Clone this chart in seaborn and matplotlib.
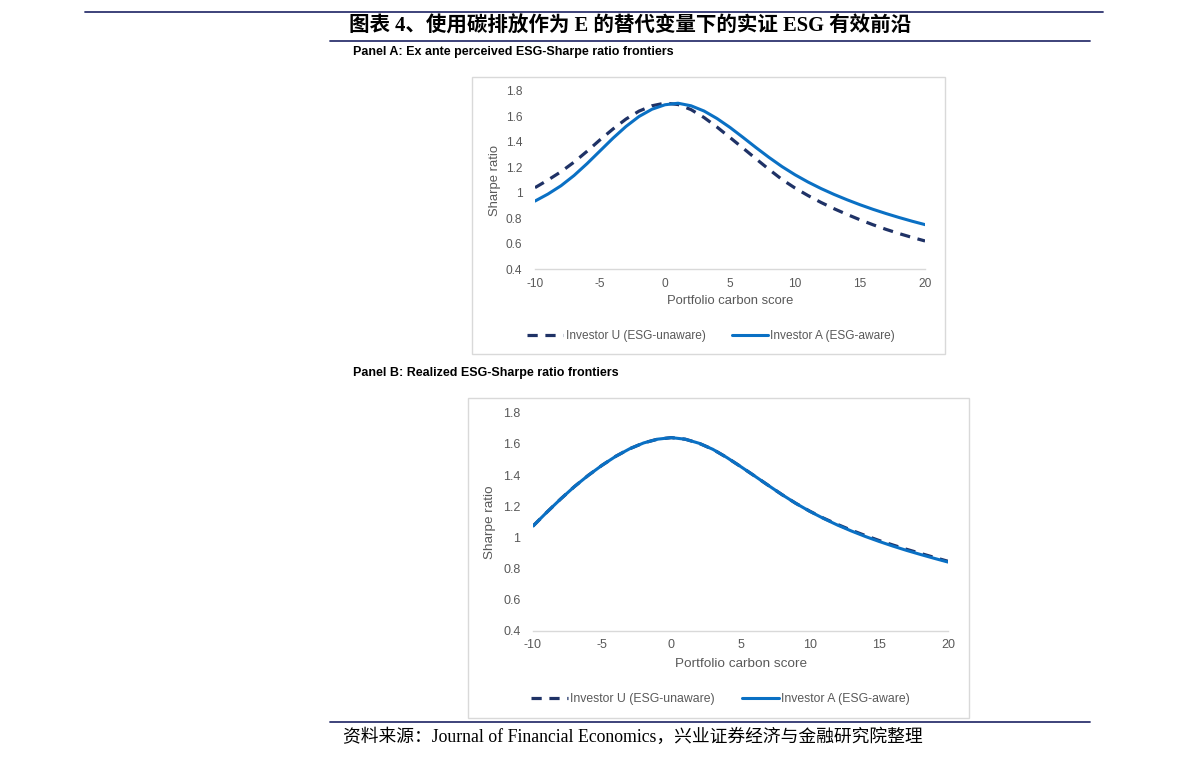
import numpy as np
import pandas as pd
import seaborn as sns
import matplotlib
matplotlib.use('Agg')
from matplotlib import pyplot as plt
from matplotlib.patches import Rectangle
from matplotlib.lines import Line2D

sns.set_style('white')
plt.rcParams['font.family'] = ['Liberation Sans', 'Noto Sans CJK SC']

# data
carbon_score = [-10, -9, -8, -7, -6, -5, -4, -3, -2, -1, 0, 1, 2, 3, 4, 5,
                6, 7, 8, 9, 10, 11, 12, 13, 14, 15, 16, 17, 18, 19, 20]
a_unaware = [1.04, 1.10, 1.165, 1.24, 1.325, 1.415, 1.50, 1.578, 1.640, 1.682, 1.703,
             1.692, 1.652, 1.59, 1.515, 1.433, 1.35, 1.266, 1.183, 1.104, 1.037, 0.978,
             0.924, 0.875, 0.83, 0.788, 0.749, 0.713, 0.68, 0.65, 0.622]
a_aware = [0.935, 0.99, 1.055, 1.135, 1.228, 1.328, 1.428, 1.52, 1.598, 1.655, 1.69,
           1.702, 1.682, 1.641, 1.582, 1.512, 1.434, 1.354, 1.277, 1.205, 1.141, 1.084,
           1.033, 0.987, 0.945, 0.906, 0.87, 0.837, 0.806, 0.777, 0.75]
b_unaware = [1.072, 1.161, 1.246, 1.326, 1.398, 1.463, 1.521, 1.569, 1.606, 1.630, 1.640,
             1.630, 1.604, 1.565, 1.513, 1.455, 1.395, 1.334, 1.274, 1.218, 1.168, 1.123,
             1.083, 1.046, 1.012, 0.98, 0.951, 0.923, 0.897, 0.871, 0.846]
b_aware = [1.072, 1.161, 1.246, 1.326, 1.398, 1.463, 1.521, 1.569, 1.606, 1.630, 1.640,
           1.630, 1.604, 1.565, 1.513, 1.455, 1.395, 1.334, 1.274, 1.218, 1.167, 1.121,
           1.079, 1.041, 1.006, 0.974, 0.944, 0.916, 0.89, 0.865, 0.841]
x_ticks = [-10, -5, 0, 5, 10, 15, 20]
y_ticks = [0.4, 0.6, 0.8, 1.0, 1.2, 1.4, 1.6, 1.8]
y_tick_labels = ['0.4', '0.6', '0.8', '1', '1.2', '1.4', '1.6', '1.8']
series_names = ['Investor U (ESG-unaware)', 'Investor A (ESG-aware)']

title = '图表 4、使用碳排放作为 E 的替代变量下的实证 ESG 有效前沿'
panel_a = 'Panel A: Ex ante perceived ESG-Sharpe ratio frontiers'
panel_b = 'Panel B: Realized ESG-Sharpe ratio frontiers'
source = '资料来源：Journal of Financial Economics，兴业证券经济与金融研究院整理'

navy = '#1F3266'
blue = '#0A70C4'
grey_txt = '#595959'
rule = '#2E3470'

fig = plt.figure(figsize=(11.91, 7.65), dpi=100)


def draw_panel(rect, frame, unaware, aware, fs_tick, fs_lab, fs_leg, xlab_y, ylab_x, leg_xy):
    fig.add_artist(Rectangle((frame[0], frame[1]), frame[2], frame[3],
                             transform=fig.transFigure, fill=False,
                             edgecolor='#D9D9D9', linewidth=1.0))
    ax = fig.add_axes(rect)
    sns.lineplot(x=carbon_score, y=unaware, ax=ax, color=navy, linewidth=2.3,
                 linestyle=(0, (3.2, 2.4)), label=series_names[0])
    sns.lineplot(x=carbon_score, y=aware, ax=ax, color=blue, linewidth=2.2,
                 label=series_names[1])
    ax.set_xlim(-10, 20)
    ax.set_ylim(0.4, 1.8)
    ax.set_xticks(x_ticks)
    ax.set_xticklabels([str(t) for t in x_ticks], fontsize=fs_tick, color=grey_txt)
    ax.set_yticks(y_ticks)
    ax.set_yticklabels(y_tick_labels, fontsize=fs_tick, color=grey_txt)
    ax.tick_params(axis='both', length=0)
    ax.tick_params(axis='y', pad=9)
    ax.tick_params(axis='x', pad=6)
    for s in ['top', 'right', 'left']:
        ax.spines[s].set_visible(False)
    ax.spines['bottom'].set_color('#D9D9D9')
    ax.spines['bottom'].set_linewidth(1.0)
    ax.set_xlabel('Portfolio carbon score', fontsize=fs_lab, color=grey_txt)
    ax.set_ylabel('Sharpe ratio', fontsize=fs_lab, color=grey_txt)
    ax.xaxis.set_label_coords(0.5, xlab_y)
    ax.yaxis.set_label_coords(ylab_x, 0.5)
    ax.legend(loc='center', bbox_to_anchor=leg_xy, bbox_transform=fig.transFigure,
              ncol=2, frameon=False, fontsize=fs_leg, handlelength=3.0,
              handletextpad=0.2, columnspacing=2.2, labelcolor=grey_txt)
    return ax


draw_panel([0.4492, 0.648, 0.3275, 0.2334], (0.3963, 0.5373, 0.397, 0.362),
           a_unaware, a_aware, 8.6, 9.4, 8.6, -0.144, -0.087, (0.597, 0.5608))
draw_panel([0.4475, 0.1755, 0.3485, 0.285], (0.393, 0.0614, 0.4206, 0.4183),
           b_unaware, b_aware, 9, 9.7, 8.8, -0.125, -0.09, (0.605, 0.0863))

# header / footer rules and text
fig.add_artist(Line2D([0.0714, 0.926], [0.9843, 0.9843], transform=fig.transFigure,
                      color=rule, linewidth=1.3))
fig.add_artist(Line2D([0.277, 0.915], [0.9464, 0.9464], transform=fig.transFigure,
                      color=rule, linewidth=1.3))
fig.add_artist(Line2D([0.277, 0.915], [0.0562, 0.0562], transform=fig.transFigure,
                      color=rule, linewidth=1.3))
fig.text(0.529, 0.9658, title, ha='center', va='center', fontsize=14.8,
         fontweight='bold', family=['Liberation Serif', 'Noto Sans CJK SC'], color='black')
fig.text(0.2964, 0.932, panel_a, ha='left', va='center', fontsize=9, fontweight='bold',
         family=['Liberation Sans Narrow', 'Liberation Sans'], color='black')
fig.text(0.2964, 0.5124, panel_b, ha='left', va='center', fontsize=9, fontweight='bold',
         family=['Liberation Sans Narrow', 'Liberation Sans'], color='black')
fig.text(0.288, 0.0366, source, ha='left', va='center', fontsize=12.8,
         family=['Liberation Serif', 'Noto Sans CJK SC'], color='black')

plt.savefig('out.png', dpi=100)
